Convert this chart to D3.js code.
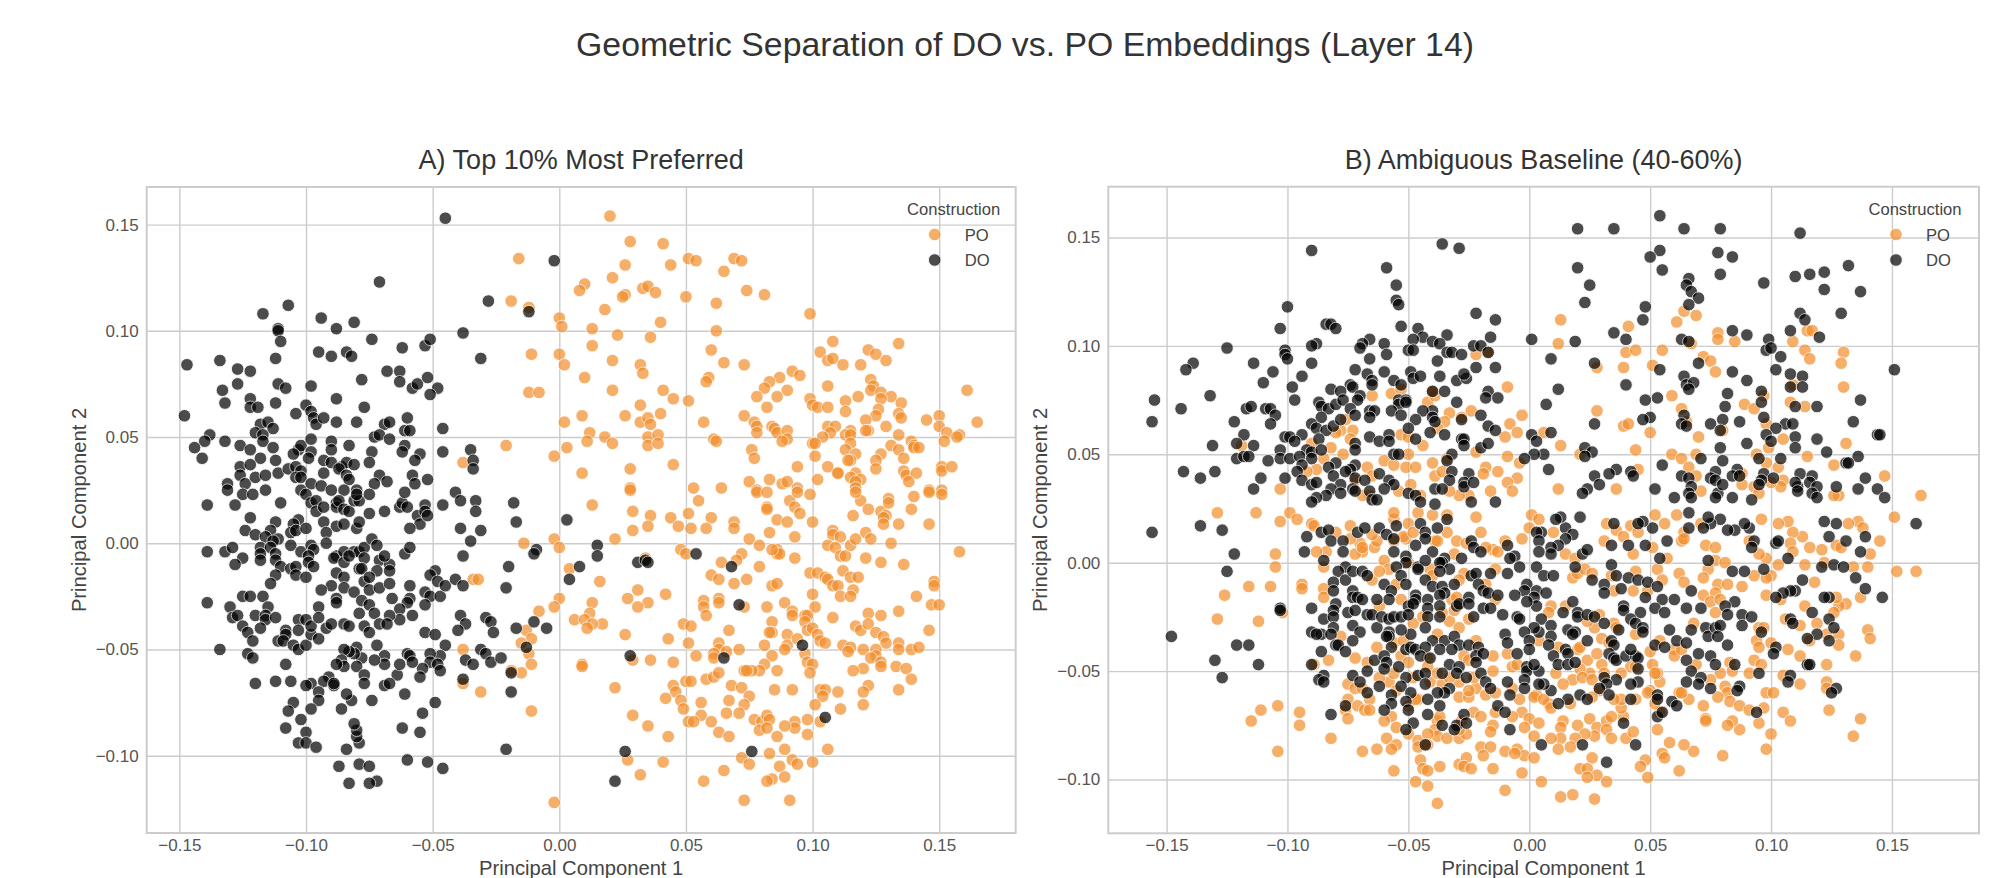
<!DOCTYPE html>
<html lang="en">
<head>
<meta charset="UTF-8">
<title>Geometric Separation of DO vs. PO Embeddings</title>
<script src="https://d3js.org/d3.v7.min.js"></script>
<style>
  body { margin: 0; background: #fff; }
  text { font-family: "Liberation Sans", Arial, sans-serif; }
</style>
</head>
<body>
<svg id="chart" width="2006" height="878"></svg>
<script>
// values, [pc1, pc2]
const doA = [[-.045,.153],[-.071,.123],[-.107,.112],[-.117,.108],[-.111,.101],[-.111,.1],[-.11,.095],[-.094,.106],[-.088,.101],[-.081,.104],[-.074,.096],[-.095,.09],[-.09,.088],[-.084,.09],[-.082,.088],[-.062,.092],[-.053,.093],[-.051,.096],[-.038,.099],[-.028,.114],[-.031,.087],[-.002,.133],[-.012,.109],[-.147,.084],[-.134,.086],[-.127,.082],[-.122,.081],[-.112,.087],[-.127,.075],[-.133,.072],[-.132,.066],[-.111,.075],[-.108,.073],[-.098,.074],[-.122,.068],[-.122,.064],[-.119,.064],[-.112,.066],[-.1,.065],[-.104,.061],[-.088,.068],[-.078,.077],[-.068,.081],[-.063,.081],[-.063,.076],[-.058,.073],[-.056,.075],[-.052,.078],[-.048,.073],[-.051,.07],[-.077,.064],[-.148,.06],[-.098,.062],[-.097,.059],[-.096,.056],[-.093,.059],[-.088,.057],[-.08,.057],[-.069,.056],[-.067,.057],[-.06,.059],[-.061,.053],[-.059,.053],[-.046,.054],[-.118,.056],[-.115,.057],[-.113,.054],[-.12,.052],[-.117,.051],[-.117,.048],[-.138,.051],[-.14,.048],[-.144,.045],[-.141,.04],[-.132,.048],[-.126,.046],[-.122,.044],[-.113,.045],[-.118,.04],[-.112,.039],[-.126,.036],[-.122,.037],[-.126,.032],[-.131,.028],[-.124,.028],[-.12,.031],[-.116,.032],[-.111,.033],[-.107,.035],[-.104,.036],[-.102,.034],[-.104,.031],[-.102,.031],[-.103,.044],[-.102,.046],[-.105,.042],[-.098,.049],[-.098,.043],[-.099,.04],[-.09,.048],[-.09,.044],[-.093,.039],[-.09,.038],[-.086,.036],[-.084,.038],[-.081,.037],[-.093,.033],[-.087,.035],[-.084,.032],[-.083,.03],[-.083,.046],[-.074,.043],[-.075,.038],[-.073,.05],[-.071,.051],[-.067,.049],[-.061,.046],[-.062,.043],[-.055,.042],[-.057,.039],[-.046,.043],[-.035,.044],[-.034,.039],[-.034,.035],[-.071,.032],[-.073,.028],[-.068,.029],[-.058,.032],[-.057,.028],[-.052,.03],[-.098,.028],[-.102,.025],[-.094,.027],[-.09,.025],[-.085,.025],[-.08,.025],
[-.131,.025],[-.125,.023],[-.121,.023],[-.116,.025],[-.139,.018],[-.128,.018],[-.11,.019],[-.1,.023],[-.098,.019],[-.096,.02],[-.096,.015],[-.093,.017],[-.088,.019],[-.088,.017],[-.087,.02],[-.085,.016],[-.083,.015],[-.081,.02],[-.079,.02],[-.08,.023],[-.075,.023],[-.069,.015],[-.063,.017],[-.062,.019],[-.06,.017],[-.061,.024],[-.056,.013],[-.053,.018],[-.053,.015],[-.055,.009],[-.052,.013],[-.046,.018],[-.041,.024],[-.039,.02],[-.033,.02],[-.033,.015],[-.039,.007],[-.031,.006],[-.035,.001],[-.018,.019],[-.017,.01],[-.122,.012],[-.124,.006],[-.12,.004],[-.112,.01],[-.114,.006],[-.103,.011],[-.105,.009],[-.106,.005],[-.104,.006],[-.1,.007],[-.093,.01],[-.088,.008],[-.085,.009],[-.08,.007],[-.079,.01],[-.075,.014],[-.092,.005],[-.092,0],[-.059,.007],[-.116,.003],[-.111,.002],[-.113,.001],[-.118,-.002],[-.114,-.002],[-.112,-.005],[-.118,-.005],[-.139,-.004],[-.132,-.004],[-.129,-.002],[-.125,-.007],[-.128,-.01],[-.118,-.008],[-.112,-.008],[-.11,-.011],[-.106,-.001],[-.102,-.004],[-.106,-.012],[-.104,-.011],[-.104,-.015],[-.1,-.016],[-.112,-.015],[-.114,-.019],
[-.098,-.001],[-.097,-.003],[-.099,-.006],[-.099,-.009],[-.097,-.011],[-.088,-.006],[-.085,-.004],[-.089,-.007],[-.085,-.009],[-.081,-.004],[-.079,-.004],[-.083,-.006],[-.077,-.002],[-.074,.002],[-.072,-.001],[-.077,-.007],[-.079,-.012],[-.078,-.012],[-.071,-.008],[-.072,-.013],[-.067,-.01],[-.067,-.013],[-.069,-.006],[-.061,-.005],[-.059,-.002],[-.088,-.014],[-.085,-.016],[-.077,-.018],[-.075,-.016],[-.085,-.021],[-.09,-.02],[-.094,-.022],[-.081,-.023],[-.075,-.022],[-.071,-.021],[-.067,-.019],[-.059,-.02],[-.066,-.026],[-.078,-.027],[-.075,-.029],[-.079,-.033],[-.073,-.033],[-.088,-.026],[-.088,-.028],[-.095,-.03],[-.053,-.023],[-.051,-.025],[-.047,-.025],[-.049,-.013],[-.051,-.015],[-.048,-.018],[-.045,-.02],[-.041,-.017],[-.038,-.006],[-.038,-.02],[-.02,-.011],[-.021,-.021],[-.059,-.026],[-.06,-.028],[-.063,-.031],[-.053,-.029],[-.058,-.034],[-.063,-.036],[-.067,-.034],[-.071,-.038],[-.068,-.038],[-.039,-.034],[-.037,-.038],[-.04,-.041],[-.029,-.035],[-.027,-.037],[-.026,-.042],[-.017,-.04],[-.01,-.037],[-.005,-.04],[-.009,-.003],[-.01,-.005],[-.053,-.042],[-.049,-.043],[-.045,-.048],[-.047,-.053],[-.051,-.052],[-.051,-.056],[-.048,-.057],[-.047,-.06],[-.054,-.059],[-.055,-.063],[-.064,-.062],[-.063,-.057],[-.06,-.052],[-.059,-.053],[-.058,-.056],[-.069,-.053],[-.069,-.057],[-.073,-.055],[-.078,-.054],[-.072,-.048],[-.08,-.049],[-.081,-.052],[-.083,-.051],[-.085,-.05],[-.086,-.055],[-.085,-.058],[-.088,-.057],[-.08,-.058],[-.077,-.062],[-.077,-.066],[-.069,-.067],[-.067,-.066],[-.061,-.071],[-.074,-.074],[-.082,-.074],[-.084,-.071],[-.091,-.063],[-.093,-.065],[-.089,-.067],[-.089,-.066],[-.098,-.066],[-.1,-.067],[-.106,-.065],[-.112,-.065],[-.12,-.066],[-.108,-.057],[-.095,-.07],[-.095,-.074],[-.105,-.075],[-.107,-.079],[-.098,-.078],[-.086,-.078],[-.102,-.083],[-.108,-.087],[-.1,-.089],[-.103,-.094],[-.1,-.094],[-.096,-.096],[-.084,-.097],[-.079,-.094],[-.08,-.091],[-.08,-.088],[-.081,-.085],[-.062,-.087],[-.055,-.089],[-.054,-.08],[-.049,-.075],[-.06,-.102],[-.052,-.103],[-.046,-.106],[-.021,-.097],[-.087,-.105],[-.079,-.104],[-.075,-.105],[-.072,-.112],[-.075,-.113],[-.083,-.113],[-.037,-.055],[-.034,-.057],[-.031,-.05],[-.029,-.052],[-.027,-.056],[-.023,-.054],[-.038,-.064],[-.019,-.061],[-.019,-.07],[-.013,-.049],
[-.139,-.028],[-.134,-.05],[-.13,-.03],[-.129,-.035],[-.127,-.034],[-.12,-.034],[-.125,-.025],[-.122,-.025],[-.117,-.025],[-.115,-.03],[-.116,-.034],[-.116,-.036],[-.112,-.035],[-.118,-.04],[-.125,-.039],[-.123,-.042],[-.121,-.046],[-.123,-.052],[-.121,-.054],[-.111,-.046],[-.108,-.041],[-.108,-.043],[-.109,-.046],[-.105,-.048],[-.103,-.05],[-.1,-.048],[-.098,-.043],[-.095,-.045],[-.103,-.036],[-.1,-.036],[-.103,-.041],[-.098,-.039],[-.095,-.035],[-.092,-.04],[-.09,-.038],[-.085,-.038],[-.083,-.039],[-.077,-.039],[-.075,-.042],[.003,.011],[.015,-.001],[.015,-.006],[.008,-.011],[.004,-.017],[.031,-.009],[.034,-.008],[.035,-.009],[.054,-.005],[.068,-.011],[.071,-.029],[.028,-.053],[.065,-.054],[.096,-.048],[.105,-.082],[.076,-.098],[.026,-.098],[.022,-.112]];

const poA = [[.02,.154],[.028,.142],[.041,.141],[.026,.131],[.044,.131],[.051,.134],[.054,.133],[.069,.134],[.072,.133],[.065,.128],[.021,.125],[.01,.122],[.008,.119],[.033,.12],[.035,.121],[.038,.118],[.026,.117],[.025,.116],[.05,.116],[.074,.119],[.081,.117],[.062,.113],[.099,.108],[.018,.11],[0,.106],[.001,.102],[.013,.101],[.04,.104],[.062,.1],[.023,.098],[.036,.097],[.013,.093],[.108,.095],[.134,.094],[.06,.091],[0,.089],[.002,.084],[.021,.086],[.032,.084],[.033,.08],[.065,.085],[.073,.084],[.103,.09],[.106,.086],[.108,.087],[.112,.084],[.119,.084],[.122,.091],[.125,.089],[.129,.086],[.01,.078],[.021,.072],[.041,.072],[.045,.068],[.051,.067],[.059,.078],[.058,.076],[.092,.081],[.095,.079],[.087,.078],[.083,.076],[.081,.073],[.09,.072],[.086,.069],[.078,.069],[.082,.064],[.106,.074],[.123,.077],[.124,.074],[.123,.072],[.127,.071],[.131,.069],[.118,.069],[.113,.067],[.099,.068],[.1,.065],[.102,.064],[.106,.064],[.135,.066],[.127,.068],[.126,.063],[.125,.06],[.113,.062],[.134,.061],[.135,.059],[.161,.072],[.032,.065],[.009,.06],[.026,.06],[.002,.057],[.04,.061],[.032,.057],[.035,.059],[.036,.056],[.057,.057],[.073,.06],[.077,.057],[.078,.055],[.078,.052],[.084,.055],[.085,.054],[.086,.052],[.09,.053],[.09,.049],[.088,.048],[.012,.052],[.018,.05],[.011,.048],[.021,.047],[.035,.05],[.039,.051],[.035,.046],[.039,.047],[.061,.049],[.062,.048],[.003,.045],[-.002,.041],[.106,.055],[.109,.055],[.107,.052],[.104,.05],[.1,.047],[.101,.047],[.115,.053],[.113,.051],[.115,.051],[.115,.047],[.121,.058],[.122,.053],[.121,.053],[.129,.055],[.134,.051],[.145,.058],[.15,.06],[.15,.055],[.165,.057],[.153,.052],[.158,.051],[.157,.05],[.152,.048],[.139,.048],[.14,.046],[.14,.045],[.142,.045],[.131,.046],[.134,.044],[.136,.04],[.113,.044],[.117,.042],[.115,.039],[.114,.039],[.127,.042],[.125,.039],[.125,.035],[.101,.041],[.106,.036],[.11,.033],[.11,.033],[.117,.033],[.115,.031],[.119,.03],[.117,.029],[.117,.026],[.094,.036],[.076,.044],[.077,.04],[.045,.037],[.028,.035],[.009,.033],[.136,.034],[.137,.032],[.141,.033],[.138,.029],[.151,.036],[.151,.034],[.155,.036],[.146,.025],[.151,.025],[.075,.029],[.083,.03],[.088,.028],[.09,.029],[.094,.026],[.102,.03],[.028,.026],[.053,.026],[.064,.026],[.078,.025],
[.028,.025],[.013,.018],[.055,.02],[.029,.015],[.036,.013],[.029,.006],[.035,.008],[.022,.002],[.044,.012],[.051,.014],[.047,.008],[.052,.007],[.06,.012],[.058,.007],[.069,.01],[.069,.007],[-.002,.002],[0,-.002],[.075,.002],[.079,-.001],[.083,.005],[.086,.011],[.09,.01],[.093,.003],[.082,.017],[.082,.016],[.078,.024],[.082,.024],[.091,.02],[.093,.017],[.095,.014],[.094,.024],[.099,.023],[.1,.01],[.116,.013],[.119,.02],[.122,.016],[.117,.024],[.127,.015],[.13,.021],[.13,.019],[.129,.013],[.128,.012],[.128,.009],[.134,.009],[.139,.016],[.14,.022],[.146,.024],[.151,.023],[.146,.009],[.158,-.004],[.108,.006],[.108,.004],[.111,.003],[.106,-.001],[.109,-.002],[.111,-.006],[.113,-.006],[.115,-.001],[.117,.002],[.121,.005],[.123,.002],[.121,-.007],[.127,-.009],[.131,0],[.136,-.01],[.112,-.013],[.115,-.016],[.118,-.016],[.099,-.014],[.102,-.014],[.105,-.016],[.106,-.017],[.108,-.02],[.11,-.02],[.116,-.022],[.111,-.025],[.115,-.025],[.148,-.018],[.148,-.02],[.141,-.025],[.147,-.029],[.15,-.029],[.134,-.032],[.122,-.033],[.127,-.034],[.108,-.035],[.093,-.007],[.086,-.003],[.086,-.005],[.087,-.005],[.084,-.003],[.072,-.005],[.07,-.008],[.064,-.009],[.079,-.011],[.06,-.015],[.063,-.017],[.074,-.017],[.069,-.019],[.084,-.02],[.086,-.019],[.048,-.003],[.05,-.005],[.034,-.007],[.004,-.012],[.016,-.018],[.031,-.022],[.027,-.026],[.035,-.028],[.031,-.03],[.042,-.024],[.013,-.028],[0,-.026],[-.002,-.03],[.012,-.033],[.006,-.036],[.01,-.036],[.017,-.038],[.013,-.038],[.011,-.04],[.026,-.043],[.057,-.027],[.057,-.03],[.063,-.026],[.063,-.028],[.058,-.034],[.073,-.03],[.082,-.03],[.089,-.028],[.092,-.032],[.092,-.034],[.1,-.024],[.101,-.03],[.097,-.034],[.098,-.034],[.097,-.037],[.084,-.037],[.084,-.042],[.083,-.042],[.049,-.038],[.052,-.039],[.043,-.045],[.067,-.041],[.051,-.047],[.063,-.047],[.063,-.05],[.066,-.051],[.071,-.05],[.061,-.052],[.061,-.054],[.054,-.053],[.036,-.055],[.045,-.056],[.029,-.055],[.009,-.057],[.009,-.058],[.081,-.048],[.09,-.043],[.09,-.048],[.089,-.05],[.084,-.053],[.094,-.045],[.098,-.041],[.1,-.04],[.102,-.043],[.103,-.046],[.105,-.047],[.097,-.052],[.098,-.056],[.1,-.057],[.099,-.061],[.112,-.048],[.115,-.049],[.114,-.051],[.12,-.05],[.117,-.039],[.119,-.041],[.122,-.038],[.125,-.042],[.128,-.044],[.129,-.047],[.134,-.047],[.134,-.05],[.139,-.05],[.142,-.049],[.146,-.041],[.125,-.05],[.125,-.053],[.123,-.054],[.127,-.056],[.127,-.058],[.133,-.058],[.137,-.059],[.139,-.064],[.134,-.069],[.12,-.059],[.116,-.06],[.122,-.067],[.12,-.07],[.12,-.076],[.11,-.07],[.103,-.069],[.105,-.069],[.104,-.072],[.111,-.078],[.101,-.076],[.098,-.083],[.103,-.084],[.093,-.084],[.093,-.087],[.089,-.086],[.086,-.091],[.098,-.09],[.089,-.097],[.106,-.097],[.083,-.099],[.092,-.102],[.094,-.104],[.1,-.103],[.087,-.105],[.089,-.11],[.084,-.111],[.082,-.112],[.091,-.121],[.073,-.121],[.072,-.101],[.075,-.104],[.065,-.107],[.057,-.112],[.041,-.103],[.027,-.102],[.032,-.109],[-.002,-.122],[.085,-.069],[.092,-.069],[.081,-.057],[.086,-.06],[.079,-.06],[.076,-.06],[.073,-.06],[.074,-.06],[.058,-.064],[.061,-.063],[.063,-.061],[.05,-.065],[.052,-.065],[.045,-.067],[.046,-.07],[.042,-.073],[.048,-.074],[.049,-.078],[.056,-.075],[.067,-.074],[.068,-.067],[.072,-.068],[.075,-.072],[.073,-.076],[.066,-.08],[.071,-.08],[.056,-.081],[.051,-.084],[.053,-.084],[.06,-.084],[.063,-.089],[.067,-.091],[.077,-.083],[.08,-.084],[.082,-.081],[.083,-.083],[.079,-.088],[.082,-.087],[.022,-.068],[.029,-.081],[.035,-.086],[.043,-.091],
[-.014,0],[-.034,-.017],[-.032,-.017],[-.008,-.032],[-.013,-.041],[-.011,-.045],[-.015,-.047],[-.038,-.05],[-.012,-.052],[-.011,-.057],[-.015,-.061],[-.019,-.06],[-.038,-.066],[-.031,-.07],[-.011,-.079],[-.016,.134],[-.019,.114],[-.012,.111],[-.011,.089],[-.012,.071],[-.008,.071],[-.021,.046],[-.038,.038]];

const doB = [[-.09,.144],[-.036,.147],[-.029,.145],[-.059,.136],[-.055,.128],[-.055,.121],[-.054,.119],[-.022,.115],[-.014,.112],[-.1,.118],[-.103,.108],[-.084,.11],[-.082,.11],[-.08,.108],[-.053,.109],[-.046,.108],[-.034,.105],[-.044,.104],[-.016,.104],[-.066,.103],[-.069,.101],[-.07,.099],[-.088,.101],[-.09,.1],[-.06,.101],[-.048,.103],[-.04,.102],[-.037,.101],[-.023,.1],[-.02,.1],[-.125,.099],[-.101,.098],[-.101,.096],[-.1,.094],[-.059,.096],[-.05,.098],[-.048,.098],[-.034,.097],[-.032,.097],[-.028,.096],[-.017,.097],[-.139,.092],[-.142,.089],[-.114,.092],[-.09,.092],[-.066,.094],[-.038,.093],[-.022,.09],[-.014,.09],[-.106,.088],[-.072,.089],[-.06,.088],[-.067,.087],[-.065,.084],[-.065,.082],[-.049,.088],[-.048,.085],[-.045,.086],[-.037,.086],[-.03,.084],[-.026,.085],[-.027,.087],[-.11,.083],[-.094,.086],[-.098,.081],[-.056,.084],[-.053,.082],[-.074,.082],[-.073,.081],[-.082,.08],[-.078,.079],[-.04,.079],[-.035,.079],[-.017,.079],[-.018,.076],[-.013,.076],[-.155,.075],[-.132,.077],[-.097,.075],[-.07,.077],[-.087,.074],[-.03,.074],[-.144,.071],[-.117,.071],[-.115,.072],[-.109,.071],[-.107,.071],[-.105,.068],[-.086,.072],[-.083,.071],[-.08,.073],[-.077,.075],[-.071,.075],[-.054,.075],[-.051,.075],[-.054,.073],[-.051,.074],[-.074,.071],[-.066,.07],[-.064,.07],[-.057,.07],[-.04,.07],[-.044,.07],[-.02,.068],[-.156,.065],[-.122,.065],[-.107,.064],[-.086,.067],[-.072,.068],[-.066,.067],[-.053,.068],[-.047,.066],[-.04,.067],[-.039,.065],[-.028,.066],[-.09,.064],[-.088,.062],[-.084,.061],[-.081,.063],[-.078,.066],[-.05,.062],[-.041,.06],[-.035,.059],[-.017,.063],[-.014,.061],[-.118,.059],[-.121,.055],[-.114,.054],[-.101,.058],[-.099,.058],[-.094,.059],[-.097,.056],[-.087,.057],[-.066,.058],[-.058,.059],[-.062,.056],[-.058,.056],[-.047,.057],[-.028,.057],[-.027,.057],[-.027,.054],[-.02,.053],[-.017,.055],[-.131,.054],[-.103,.052],[-.092,.052],[-.09,.051],[-.072,.055],[-.072,.052],[-.086,.052],[-.056,.05],[-.054,.05],[-.032,.05],[-.121,.048],[-.118,.049],[-.116,.049],[-.108,.047],[-.103,.048],[-.099,.048],[-.095,.049],[-.09,.048],[-.094,.045],[-.08,.046],[-.083,.044],[-.072,.045],[-.074,.043],[-.034,.047],[-.143,.042],[-.13,.042],[-.136,.039],[-.096,.042],[-.076,.042],[-.081,.04],[-.062,.041],[-.032,.042],[-.025,.041],[-.111,.039],[-.101,.039],[-.094,.038],[-.072,.039],[-.068,.038],[-.058,.038],[-.033,.038],[-.114,.034],[-.09,.036],[-.088,.037],[-.078,.036],[-.082,.034],[-.073,.034],[-.072,.033],[-.078,.032],[-.084,.031],[-.056,.036],[-.06,.034],[-.066,.033],[-.05,.032],[-.039,.034],[-.036,.034],[-.027,.037],[-.027,.035],[-.023,.037],[-.088,.03],[-.09,.028],[-.065,.029],[-.063,.029],[-.047,.031],[-.045,.028],[-.039,.027],[-.024,.028],[-.014,.028],
[-.156,.014],[-.136,.017],[-.127,.015],[-.122,.004],[-.125,-.004],[-.093,.005],[-.092,.012],[-.086,.014],[-.083,.015],[-.082,.01],[-.077,.01],[-.077,.005],[-.071,.014],[-.068,.016],[-.062,.016],[-.059,.013],[-.055,.017],[-.056,.011],[-.056,.005],[-.051,.003],[-.045,.018],[-.043,.014],[-.043,.011],[-.038,.016],[-.034,.02],[-.047,.008],[-.04,.005],[-.035,.002],[-.036,0],[-.028,.002],[-.024,.01],[-.023,.007],[-.02,.005],[-.085,.001],[-.076,-.002],[-.079,-.004],[-.076,-.008],[-.073,-.004],[-.069,-.004],[-.067,-.006],[-.081,-.009],[-.081,-.013],[-.051,0],[-.055,-.002],[-.046,-.002],[-.043,.001],[-.037,0],[-.033,-.003],[-.037,-.004],[-.053,-.006],[-.046,-.003],[-.06,-.01],[-.051,-.01],[-.057,-.013],[-.058,-.017],[-.063,-.017],[-.073,-.013],[-.073,-.016],[-.071,-.016],[-.069,-.017],[-.08,-.019],[-.043,-.008],[-.047,-.015],[-.047,-.017],[-.04,-.011],[-.036,-.011],[-.035,-.014],[-.042,-.017],[-.037,-.015],[-.031,-.01],[-.025,-.016],[-.024,-.006],[-.022,-.005],[-.021,-.01],[-.016,-.005],[-.019,-.013],[-.017,-.014],[-.013,-.015],[-.103,-.021],[-.103,-.022],[-.09,-.021],[-.081,-.022],[-.085,-.026],[-.081,-.025],[-.081,-.03],[-.075,-.023],[-.072,-.022],[-.067,-.024],[-.065,-.024],[-.063,-.03],[-.061,-.025],[-.058,-.026],[-.056,-.025],[-.053,-.025],[-.05,-.02],[-.048,-.019],[-.05,-.024],[-.042,-.021],[-.042,-.025],[-.037,-.02],[-.037,-.025],[-.03,-.02],[-.029,-.019],[-.025,-.019],[-.019,-.021],[-.016,-.021],[-.023,-.025],[-.073,-.029],[-.07,-.032],[-.09,-.032],[-.086,-.033],[-.088,-.033],[-.082,-.033],[-.148,-.034],[-.121,-.038],[-.116,-.038],[-.043,-.03],[-.049,-.033],[-.053,-.031],[-.058,-.032],[-.058,-.034],[-.059,-.034],[-.04,-.036],[-.035,-.036],[-.031,-.034],[-.029,-.038],[-.025,-.038],[-.073,-.036],[-.08,-.038],[-.079,-.038],[-.057,-.039],[-.051,-.04],[-.049,-.039],[-.047,-.04],[-.043,-.039],[-.037,-.04],[-.032,-.04],[-.021,-.039],[-.022,-.043],[-.019,-.042],[-.076,-.041],[-.086,-.041],[-.13,-.045],[-.112,-.047],[-.09,-.047],[-.064,-.045],[-.06,-.043],[-.059,-.046],[-.06,-.049],[-.054,-.048],[-.045,-.043],[-.041,-.044],[-.033,-.047],[-.029,-.048],[-.022,-.046],[-.073,-.052],[-.067,-.05],[-.127,-.053],[-.085,-.052],[-.087,-.054],[-.085,-.055],[-.07,-.055],[-.067,-.06],[-.062,-.057],[-.051,-.053],[-.046,-.052],[-.043,-.051],[-.043,-.056],[-.036,-.051],[-.03,-.051],[-.026,-.053],[-.02,-.051],[-.018,-.055],[-.016,-.058],[-.053,-.057],[-.049,-.06],[-.033,-.058],[-.035,-.06],[-.038,-.06],[-.057,-.061],[-.051,-.064],[-.042,-.063],[-.057,-.065],[-.076,-.066],[-.06,-.068],[-.082,-.07],[-.05,-.068],[-.042,-.07],[-.037,-.066],[-.027,-.07],[-.013,-.066],[-.048,-.074],[-.051,-.077],[-.043,-.084],[-.03,-.075],[-.031,-.077],[-.036,-.075],[-.026,-.074],
[.054,.16],[.02,.154],[.035,.154],[.064,.154],[.079,.154],[.112,.152],[.054,.144],[.078,.143],[.084,.141],[.05,.141],[.055,.135],[.02,.136],[.079,.133],[.025,.128],[.097,.129],[.11,.132],[.116,.133],[.122,.134],[.132,.137],[.122,.126],[.137,.125],[.066,.131],[.065,.128],[.067,.125],[.07,.122],[.066,.119],[.023,.12],[.048,.118],[.047,.112],[.112,.115],[.114,.112],[.129,.115],[.035,.106],[.04,.103],[.001,.103],[.019,.102],[.063,.103],[.066,.102],[.084,.107],[.09,.105],[.099,.103],[.108,.107],[.12,.104],[.098,.098],[.1,.099],[.104,.095],[.009,.094],[.027,.092],[.054,.089],[.07,.092],[.084,.088],[.102,.089],[.108,.087],[.113,.086],[.151,.089],[.064,.086],[.065,.082],[.068,.083],[.066,.08],[.09,.084],[.012,.08],[.04,.082],[.108,.081],[.113,.081],[.096,.079],[.082,.078],[.053,.076],[.048,.075],[.007,.073],[.096,.074],[.081,.072],[.11,.072],[.119,.072],[.137,.075],[.05,.067],[.047,.066],[.064,.068],[.063,.064],[.065,.063],[.075,.064],[.08,.066],[.087,.065],[.097,.067],[.106,.064],[.109,.064],[.134,.065],[.027,.064],[.102,.062],[.079,.061],[.098,.059],[.1,.056],[.11,.058],[.119,.057],[.009,.06],[.001,.059],[.003,.056],[.144,.059],[.145,.059],[.09,.055],[.079,.053],[.11,.053],[.023,.053],[.026,.051],[.023,.049],[.006,.05],[.002,.05],[-.002,.048],[.123,.051],[.136,.049],[.104,.048],[.071,.048],[.055,.045],[.08,.047],[.095,.048],[.131,.046],[.132,.046],[.008,.043],[.036,.043],[.033,.041],[.042,.042],[.043,.04],[.027,.04],[.029,.036],[.024,.034],[.022,.032],[.086,.043],[.084,.04],[.087,.04],[.077,.042],[.075,.039],[.077,.038],[.063,.04],[.066,.039],[.097,.041],[.096,.038],[.095,.036],[.101,.039],[.112,.041],[.117,.04],[.116,.037],[.111,.035],[.11,.037],[.111,.033],[.119,.035],[.117,.032],[.119,.03],[.139,.039],[.127,.035],[.136,.034],[.144,.034],[.147,.03],[.052,.034],[.067,.035],[.066,.032],[.078,.032],[.08,.036],[.06,.03],[.067,.03],[.084,.03],[.092,.029],[.077,.03],
[.16,.018],[.139,.012],[.131,.01],[.137,.005],[.124,.012],[.127,.018],[.122,.019],[.107,.002],[.102,.009],[.103,.01],[.093,.01],[.092,.007],[.091,.016],[.089,.018],[.085,.015],[.082,.015],[.079,.02],[.075,.018],[.072,.016],[.074,.021],[.066,.023],[.066,.016],[.057,.01],[.051,.016],[.047,.019],[.045,.018],[.048,.008],[.041,.008],[.034,.008],[.035,.018],[.021,.021],[.015,.016],[.018,.013],[.015,.011],[.013,.021],[.011,.02],[.005,.014],[.003,.014],[.004,.01],[.012,.008],[.009,.007],[.009,.004],[.004,.005],[.022,.004],[.024,.006],[-.009,.008],[-.006,.003],[-.008,.002],[-.004,-.002],[-.009,-.005],[.003,-.002],[.006,-.006],[.01,-.006],[.019,-.002],[.034,-.001],[.054,.002],[.074,.001],[.084,-.004],[.089,-.004],[.097,-.003],[.121,-.002],[.126,-.001],[.13,-.002],[.135,-.007],[.139,-.012],[.146,-.016],[.113,-.008],[.11,-.013],[.108,-.013],[.105,-.014],[.102,-.016],[.124,-.016],[.122,-.016],[.026,-.008],[.036,-.006],[.041,-.007],[.045,-.008],[.049,-.009],[.053,-.011],[.031,-.01],[.031,-.014],[.038,-.012],[.067,-.013],[.048,-.016],[.055,-.017],[.06,-.017],[.065,-.021],[.071,-.021],[.085,-.018],[.081,-.02],[.082,-.024],[.052,-.021],[.056,-.023],[.046,-.023],[.039,-.02],[.039,-.022],[.042,-.026],[.044,-.028],[.047,-.03],[.047,-.032],[-.001,-.01],[-.002,-.013],[-.006,-.015],[.003,-.013],[.007,-.014],[.002,-.016],[.003,-.02],[-.001,-.018],[.018,-.018],[.014,-.023],[.02,-.023],[.02,-.025],[.024,-.024],[.027,-.025],[.031,-.028],[.037,-.031],[.005,-.026],[.009,-.029],[.004,-.032],[.002,-.03],[-.002,-.032],[0,-.036],[.009,-.034],[.008,-.038],[-.011,-.024],[-.005,-.025],[-.004,-.026],[-.01,-.033],[-.009,-.037],[0,-.04],[-.005,-.042],[.016,-.031],[.019,-.032],[.018,-.033],[.024,-.036],[.015,-.04],[.016,-.042],[.01,-.043],[.012,-.047],[.016,-.047],[.019,-.046],[-.001,-.048],[-.001,-.05],[.004,-.05],[.002,-.047],[.034,-.036],[.035,-.038],[.033,-.042],[.035,-.044],[.036,-.045],[.04,-.043],[.044,-.043],[.045,-.044],[.045,-.049],[.042,-.04],[.052,-.038],[.056,-.039],[.061,-.036],[.065,-.037],[.058,-.031],[.067,-.031],[.073,-.03],[.074,-.034],[.077,-.03],[.079,-.029],[.078,-.034],[.082,-.038],[.088,-.024],[.092,-.025],[.088,-.029],[.096,-.032],[.108,-.026],[.109,-.028],[.117,-.023],[.124,-.026],[.126,-.03],[.119,-.033],[.115,-.035],[.124,-.036],[.102,-.039],[.101,-.042],[.115,-.047],[.116,-.047],[.07,-.042],[.065,-.045],[.075,-.043],[.077,-.047],[.085,-.047],[.095,-.051],[.067,-.05],[.071,-.053],[.07,-.056],[.065,-.055],[.075,-.058],[.108,-.052],[.107,-.055],[.127,-.058],[.125,-.06],[.087,-.057],[.086,-.059],[.036,-.054],[.031,-.053],[.032,-.056],[.029,-.058],[.033,-.061],[.045,-.055],[.042,-.056],[.053,-.061],[.053,-.063],[.042,-.063],[.059,-.064],[.061,-.066],[.053,-.071],[.055,-.069],[.094,-.069],[.021,-.061],[.024,-.063],[.016,-.063],[.012,-.065],[.009,-.059],[.006,-.056],[.004,-.056],[-.002,-.054],[-.002,-.058],[-.009,-.055],[-.008,-.061],[-.01,-.069],[-.008,-.077],[.005,-.084],[.022,-.084],[.039,-.074],[.044,-.084],[.032,-.092]];

const poB = [[-.119,.054],[-.103,.034],[-.065,.077],[-.057,.078],[-.053,.08],[-.042,.074],[-.039,.077],[-.04,.079],[-.033,.069],[-.024,.07],[-.028,.067],[-.022,.096],[-.017,.097],[-.035,.065],[-.038,.062],[-.076,.066],[-.073,.061],[-.078,.061],[-.08,.06],[-.074,.057],[-.082,.053],[-.09,.055],[-.085,.048],[-.077,.05],[-.088,.043],[-.092,.042],[-.067,.044],[-.06,.047],[-.056,.045],[-.05,.05],[-.051,.044],[-.047,.044],[-.053,.059],[-.044,.054],[-.04,.046],[-.039,.04],[-.05,.058],[-.036,.042],[-.034,.048],[-.022,.051],[-.018,.044],[-.019,.041],[-.013,.042],[-.016,.033],[-.025,.031],[-.029,.031],[-.033,.033],[-.049,.036],[-.045,.031],[-.054,.033],[-.066,.031],[-.069,.031],[-.072,.038],[-.065,.04],
[-.129,.023],[-.113,.023],[-.099,.023],[-.096,.02],[-.103,.019],[-.09,.018],[-.089,.017],[-.08,.014],[-.074,.017],[-.07,.009],[-.069,.005],[-.072,.004],[-.084,.005],[-.088,.005],[-.085,-.002],[-.105,.004],[-.105,-.002],[-.064,.007],[-.063,.01],[-.065,.013],[-.06,.001],[-.058,-.003],[-.065,-.008],[-.062,-.004],[-.05,0],[-.051,.011],[-.039,.01],[-.03,.01],[-.02,.014],[-.015,.006],[-.013,.005],[-.027,-.005],[-.014,-.003],[-.041,-.003],[-.032,-.017],[-.033,-.027],[-.03,-.016],[-.094,-.01],[-.094,-.012],[-.116,-.011],[-.107,-.011],[-.085,-.012],[-.085,-.016],[-.126,-.015],[-.129,-.026],[-.112,-.027],[-.102,-.023],[-.078,-.034],[-.083,-.045],[-.072,-.044],[-.067,-.046],[-.053,-.043],[-.05,-.046],[-.042,-.044],[-.042,-.048],[-.027,-.043],[-.015,-.043],[-.015,-.05],[-.025,-.045],[-.089,-.047],[-.075,-.056],[-.072,-.058],[-.069,-.058],[-.066,-.063],[-.058,-.055],[-.055,-.059],[-.046,-.063],[-.041,-.055],[-.036,-.056],[-.029,-.055],[-.022,-.058],[-.029,-.062],[-.025,-.062],[-.018,-.061],[-.075,-.063],[-.071,-.066],[-.076,-.068],[-.068,-.068],[-.066,-.068],[-.075,-.072],[-.111,-.068],[-.104,-.066],[-.095,-.069],[-.115,-.073],[-.095,-.075],[-.082,-.081],[-.104,-.087],[-.069,-.087],[-.063,-.086],[-.059,-.081],[-.057,-.071],[-.06,-.073],[-.055,-.076],[-.055,-.084],[-.057,-.086],[-.05,-.079],[-.046,-.082],[-.046,-.085],[-.038,-.073],[-.039,-.077],[-.038,-.08],[-.034,-.081],[-.029,-.081],[-.026,-.079],[-.029,-.077],[-.028,-.073],[-.023,-.069],[-.02,-.071],[-.015,-.075],[-.014,-.069],[-.016,-.078],[-.02,-.085],[-.016,-.085],[-.019,-.089],[-.045,-.091],[-.044,-.095],[-.042,-.096],[-.037,-.094],[-.056,-.096],[-.029,-.093],[-.026,-.09],[-.027,-.094],[-.024,-.095],[-.015,-.095],[-.047,-.101],[-.042,-.103],[-.038,-.111],[-.042,-.079],[-.042,-.084],[-.05,-.066],[-.047,-.063],[-.056,.02],[-.05,.018],[-.046,.023],[-.04,.022],[-.034,.022],[-.034,.014],[-.038,.01],[-.022,.021],[-.052,.012],[-.026,.009],[-.018,.007],[-.074,.011],[-.056,.023],[-.048,.014],[-.069,.007],[-.056,.01],[-.031,.004],[-.037,-.071],[-.025,-.059],[-.014,-.06],[-.063,-.039],[-.056,-.037],[-.052,-.036],[-.038,-.033],[-.029,-.03],[-.025,-.026],[-.048,-.028],[-.044,-.025],[-.036,-.023],[-.053,-.017],[-.062,-.02],[-.055,-.01],[-.04,-.006],[-.029,-.008],[-.018,-.01],[-.014,-.017],[-.031,-.022],[-.022,-.036],[-.038,-.051],[-.033,-.053],[-.048,-.053],[-.023,-.053],[-.056,-.051],[-.062,-.053],
[.013,.112],[.041,.109],[.061,.111],[.064,.116],[.069,.114],[.078,.106],[.078,.103],[.085,.102],[.067,.101],[.012,.101],[.04,.097],[.044,.098],[.055,.098],[.072,.095],[.075,.093],[.077,.088],[.051,.091],[.039,.09],[.028,.09],[.109,.102],[.114,.098],[.116,.094],[.115,.107],[.117,.107],[.13,.097],[.129,.092],[.13,.081],[.109,.082],[.108,.074],[.114,.072],[.097,.077],[.089,.073],[.093,.071],[.059,.077],[.063,.071],[.028,.07],[.039,.063],[.041,.064],[.05,.06],[.07,.058],[.065,.065],[.08,.061],[.098,.064],[.105,.057],[.099,.053],[.013,.054],[.006,.06],[-.003,.068],[-.008,.064],[-.005,.06],[-.01,.058],[-.009,.081],[.131,.055],[.115,.049],[.126,.045],[.147,.04],[.162,.031],[.044,.052],[.021,.05],[.045,.043],[.059,.05],[.063,.048],[.069,.05],[.066,.044],[.069,.04],[.094,.05],[.098,.046],[.103,.044],[.088,.041],[.088,.036],[.093,.035],[.105,.038],[.104,.035],[.1,.037],[.095,.032],[.071,.033],[.012,.034],[.036,.034],[-.005,.039],[-.009,.037],[-.007,.033],[-.004,.046],[-.009,.049],[.128,.031],[.126,.031],
[.151,.021],[.145,.01],[.141,.004],[.14,-.002],[.152,-.004],[.16,-.004],[.134,-.002],[.136,.019],[.132,.018],[.138,.016],[.127,.008],[.129,.007],[.121,.006],[.122,0],[.116,.007],[.114,-.001],[.113,.012],[.109,.014],[.107,.019],[.103,.018],[.096,.02],[.108,.009],[.109,.005],[.103,-.001],[.098,.002],[.1,-.006],[.098,-.007],[.093,-.006],[.095,.004],[.091,.01],[.073,.008],[.077,.007],[.077,.001],[.081,0],[.074,-.003],[.062,-.005],[.072,-.007],[.064,-.009],[.078,-.01],[.082,-.01],[.088,-.011],[.072,-.015],[.077,-.014],[.075,-.018],[.079,-.017],[.077,-.023],[.098,-.015],[.104,-.017],[.118,-.009],[.137,-.016],[.131,-.019],[.128,-.02],[.126,-.023],[.114,-.02],[.106,-.026],[.112,-.029],[.119,-.028],[.127,-.016],[.095,-.03],[.097,-.03],[.094,-.036],[.095,-.039],[.1,-.037],[.107,-.04],[.112,-.043],[.116,-.036],[.123,-.033],[.128,-.033],[.128,-.038],[.14,-.031],[.141,-.035],[.135,-.043],[.123,-.047],[.123,-.055],[.123,-.058],[.124,-.068],[.137,-.072],[.134,-.08],[.098,-.06],[.101,-.06],[.105,-.052],[.112,-.056],[.091,-.051],[.093,-.045],[.096,-.047],[.083,-.046],[.084,-.05],[.079,-.051],[.075,-.054],[.081,-.057],[.082,-.06],[.078,-.062],[.083,-.064],[.087,-.066],[.091,-.068],[.097,-.067],[.105,-.069],[.108,-.073],[.095,-.074],[.1,-.079],[.098,-.086],[.08,-.089],[.087,-.077],[.084,-.073],[.082,-.075],[.072,-.066],[.073,-.072],[.073,-.073],[.068,-.087],[.064,-.084],[.058,-.083],[.055,-.088],[.056,-.09],[.062,-.096],[.048,-.091],[.046,-.094],[.049,-.099],[.053,-.077],[.04,-.081],[.043,-.078],[.039,-.071],[.038,-.067],[.054,-.069],[.044,-.063],[.05,-.059],[.049,-.06],[.052,-.065],[.062,-.06],[.066,-.063],[.063,-.06],[.054,-.055],[.053,-.051],[.051,-.047],[.052,-.051],[.042,-.048],[.038,-.051],[.044,-.033],[.05,-.041],[.054,-.036],[.06,-.04],[.06,-.043],[.063,-.04],[.069,-.047],[.068,-.028],[.035,-.028],[.036,-.03],[.027,-.03],[.024,-.027],[.029,-.024],[.009,-.02],[.008,-.023],[.015,-.02],[.004,-.036],[.012,-.039],[.02,-.04],[.024,-.045],[.03,-.047],[.028,-.042],[.025,-.051],[.021,-.049],[.018,-.054],[.014,-.056],[.011,-.051],[.022,-.053],[.026,-.054],[.031,-.051],[.038,-.063],[.035,-.063],[.029,-.059],[.026,-.062],[.017,-.065],[.008,-.065],[.003,-.061],[-.004,-.063],[-.007,-.058],[-.007,-.048],[-.009,-.042],[-.005,-.047],[-.003,-.069],[-.007,-.071],[0,-.072],[.004,-.074],[-.002,-.076],[.014,-.073],[.013,-.076],[.02,-.075],[.025,-.072],[.028,-.076],[.032,-.073],[.034,-.071],[.032,-.077],[.034,-.081],[.027,-.08],[.023,-.079],[.019,-.081],[.013,-.081],[.009,-.081],[.002,-.08],[.012,-.086],[.017,-.085],[-.005,-.086],[-.01,-.087],[-.002,-.089],[.002,-.09],[-.006,-.088],[.026,-.09],[.021,-.095],[.024,-.095],[.028,-.098],[.024,-.099],[.032,-.101],[-.003,-.097],[.005,-.101],[-.01,-.105],[.013,-.108],[.018,-.107],[.027,-.109],[.043,.004],[.031,.01],[.051,.007],[.063,.01],[.057,.002],[.044,-.004],[.053,-.003],[.055,-.008],[.035,-.013],[.043,-.013],[.049,-.013],[.018,-.007],[.02,-.005],[.023,-.003],[.026,-.005],[.034,-.006],[-.003,.011],[-.01,.01],[.015,.004],[.019,.002],[.001,.022],[.004,.02],[0,.016],[.01,.014],[.032,.018],[.036,.015],[.039,.012],[.042,.017],[.045,.014],[.052,.022],[.056,.018],[.061,.022],[.064,.014],[.071,.018],[.064,.011],[.03,-.035],[.033,-.037],[.021,-.039],[.044,-.048],[.002,-.062],[.006,-.063],[.009,-.067]];

const xTicks = [-0.15, -0.10, -0.05, 0, 0.05, 0.10, 0.15];
const yTicksA = [-0.10, -0.05, 0, 0.05, 0.10, 0.15];
const yTicksB = [-0.10, -0.05, 0, 0.05, 0.10, 0.15];

const colors = { PO: "#f28e2b", DO: "#000000" };
const svg = d3.select("#chart");

svg.append("text")
  .attr("x", 1025).attr("y", 56)
  .attr("text-anchor", "middle")
  .attr("font-size", 33.8)
  .attr("fill", "#333")
  .text("Geometric Separation of DO vs. PO Embeddings (Layer 14)");

function drawPanel(p) {
  const x = d3.scaleLinear().domain(p.xDomain).range([p.left, p.right]);
  const y = d3.scaleLinear().domain(p.yDomain).range([p.bottom, p.top]);
  const g = svg.append("g");

  // grid and tick labels
  g.append("g")
    .attr("transform", `translate(0,${p.bottom})`)
    .call(d3.axisBottom(x).tickValues(xTicks).tickFormat(d3.format(".2f"))
      .tickSize(-(p.bottom - p.top)).tickPadding(6));
  g.append("g")
    .attr("transform", `translate(${p.left},0)`)
    .call(d3.axisLeft(y).tickValues(p.yTicks).tickFormat(d3.format(".2f"))
      .tickSize(-(p.right - p.left)).tickPadding(8));
  g.selectAll(".domain").remove();
  g.selectAll(".tick line").attr("stroke", "#cccccc").attr("stroke-width", 1.4);
  g.selectAll(".tick text").attr("font-size", 17).attr("fill", "#555")
    .style("font-family", '"Liberation Sans", Arial, sans-serif');

  g.append("rect")
    .attr("x", p.left).attr("y", p.top)
    .attr("width", p.right - p.left).attr("height", p.bottom - p.top)
    .attr("fill", "none").attr("stroke", "#cccccc").attr("stroke-width", 2);

  // points, PO first so DO sits on top
  [["PO", p.po], ["DO", p.do]].forEach(([name, rows]) => {
    g.append("g").selectAll("circle").data(rows).join("circle")
      .attr("cx", d => x(d[0]))
      .attr("cy", d => y(d[1]))
      .attr("r", 6.3)
      .attr("fill", colors[name])
      .attr("stroke", "#fff")
      .attr("stroke-width", 0.9)
      .attr("opacity", 0.7);
  });

  g.append("text")
    .attr("x", (p.left + p.right) / 2).attr("y", 169)
    .attr("text-anchor", "middle").attr("font-size", 27).attr("fill", "#333")
    .text(p.title);
  g.append("text")
    .attr("x", (p.left + p.right) / 2).attr("y", 875)
    .attr("text-anchor", "middle").attr("font-size", 20.2).attr("fill", "#444")
    .text("Principal Component 1");
  g.append("text")
    .attr("transform", `translate(${p.left - 61},${(p.top + p.bottom) / 2}) rotate(-90)`)
    .attr("text-anchor", "middle").attr("font-size", 20.2).attr("fill", "#444")
    .text("Principal Component 2");

  // legend
  const leg = g.append("g");
  leg.append("text")
    .attr("x", p.legendX + 19).attr("y", 215)
    .attr("text-anchor", "middle").attr("font-size", 16.6).attr("fill", "#444")
    .text("Construction");
  ["PO", "DO"].forEach((name, i) => {
    const ly = 234.5 + i * 25.5;
    leg.append("circle")
      .attr("cx", p.legendX).attr("cy", ly).attr("r", 6.3)
      .attr("fill", colors[name]).attr("stroke", "#fff").attr("stroke-width", 0.9)
      .attr("opacity", 0.7);
    leg.append("text")
      .attr("x", p.legendX + 30).attr("y", ly + 6)
      .attr("font-size", 16.6).attr("fill", "#444")
      .text(name);
  });
}

drawPanel({
  title: "A) Top 10% Most Preferred",
  left: 146.7, right: 1015.7, top: 187, bottom: 833,
  xDomain: [-0.1629, 0.1802], yDomain: [-0.1364, 0.1677],
  yTicks: yTicksA, po: poA, do: doA, legendX: 934.7
});
drawPanel({
  title: "B) Ambiguous Baseline (40-60%)",
  left: 1108.3, right: 1979, top: 186.7, bottom: 833.3,
  xDomain: [-0.1741, 0.186], yDomain: [-0.1248, 0.1734],
  yTicks: yTicksB, po: poB, do: doB, legendX: 1896
});
</script>
</body>
</html>
